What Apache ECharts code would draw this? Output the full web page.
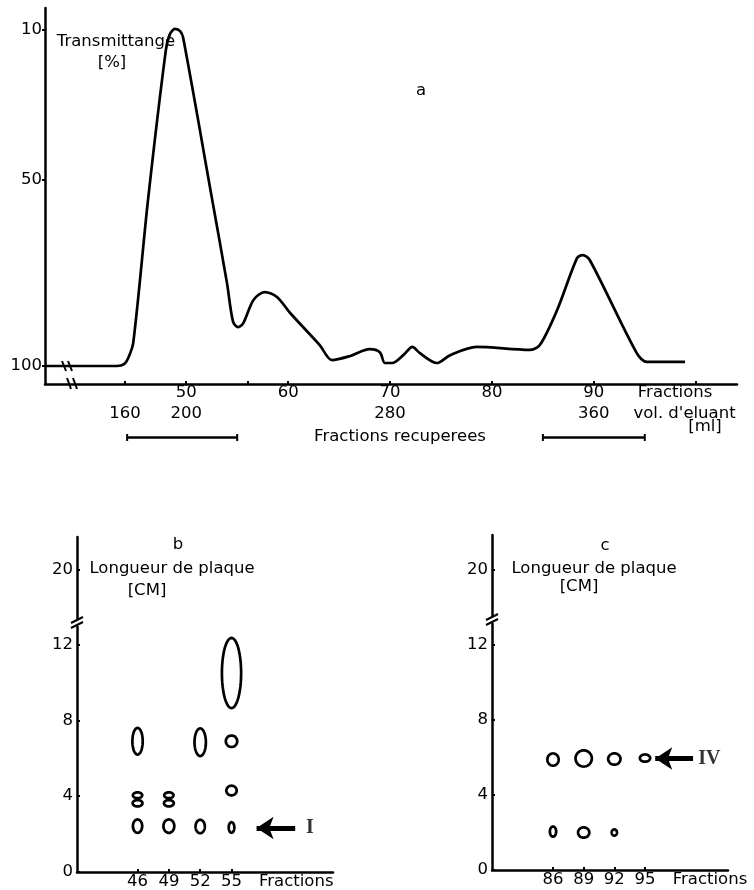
<!DOCTYPE html>
<html><head><meta charset="utf-8">
<script src="https://cdn.jsdelivr.net/npm/echarts@6/dist/echarts.min.js"></script>
<style>html,body{margin:0;padding:0;background:#fff}#c{width:754px;height:890px}</style>
</head><body><div id="c"></div>
<script>
// ---------- chart a : transmittance vs fraction ----------
const curveFractions = [36.2,37.8,43.2,43.9,44.3,44.8,46.25,48.0,48.4,48.9,49.4,49.7,52.5,54.0,54.6,55.1,55.6,56.6,57.7,58.9,60.2,63.1,64.3,66.1,68.0,69.0,69.5,70.2,71.3,72.2,72.9,74.6,75.9,78.5,83.7,84.7,86.4,88.35,88.9,89.6,94.2,95.2,98.95];
const curveTransmittance = [100,100,100,99.5,97.9,93.8,55.5,15.4,11.1,9.7,10.3,12.1,54.7,77.8,88.2,89.6,88.5,82.3,80.2,81.5,85.8,94.4,98.4,97.3,95.5,96.3,99.2,99.2,97.1,94.9,96.5,99.2,97.1,94.9,95.7,94.4,85.0,71.1,70.3,71.6,96.5,98.9,98.9];
const topTickFractions = [44,50,56,60,70,80,90,100];
const topLabelFractions = [50,60,70,80,90];
const volumeAtFraction = [44,50,70,90];
const volumeLabels = ['160','200','280','360'];
const transmTicks = [10,50,100];
const recoveredLeft = [44.2,55.0];
const recoveredRight = [85.0,95.0];

// ---------- chart b : TLC spots, fractions 46-55 ----------
const fractionsB   = [46,46,46,46,49,49,49,52,52,55,55,55,55];
const spotCenterB  = [6.9,4.05,3.63,2.42,4.05,3.63,2.42,6.85,2.4,10.5,6.9,4.3,2.35];
const spotLengthB  = [1.55,0.45,0.48,0.85,0.45,0.48,0.85,1.6,0.85,3.85,0.75,0.65,0.7];
const spotWidthB   = [1.25,1.15,1.2,1.15,1.15,1.2,1.3,1.35,1.15,2.1,1.35,1.25,0.8];
const ticksB = [46,49,52,55];
const arrowB = [[61.1,2.32],[57.4,2.32]];
const arrowLabelB = [62.5,2.32];

// ---------- chart c : TLC spots, fractions 86-95 ----------
const fractionsC   = [86,86,89,89,92,92,95];
const spotCenterC  = [5.89,2.05,5.95,2.0,5.92,2.0,5.97];
const spotLengthC  = [0.8,0.69,1.01,0.69,0.75,0.48,0.53];
const spotWidthC   = [1.37,0.88,1.86,1.37,1.47,0.78,1.27];
const ticksC = [86,89,92,95];
const arrowC = [[99.7,5.95],[96.0,5.95]];
const arrowLabelC = [101.3,5.95];

// plate length ticks (upper "20" sits above an axis break)
const plateTicks = [0,4,8,12];

const FONT = 'DejaVu Sans';
const FS = 16.5;
const BLK = '#000';
const txt = {color: BLK, fontFamily: FONT, fontSize: FS};

function spotRender(params, api) {
  const c = api.coord([api.value(0), api.value(1)]);
  const s = api.size([api.value(2), api.value(3)]);
  const lw = 2.7;
  const rx = Math.max(s[0] / 2 - lw / 2, 1.2), ry = Math.max(s[1] / 2 - lw / 2, 1.2);
  const pts = [];
  for (let i = 0; i < 48; i++) {
    const t = i / 48 * Math.PI * 2;
    pts.push([c[0] + rx * Math.cos(t), c[1] + ry * Math.sin(t)]);
  }
  return {type: 'polygon', shape: {points: pts}, style: {fill: 'none', stroke: BLK, lineWidth: lw}};
}

const chart = echarts.init(document.getElementById('c'), null, {renderer: 'canvas'});

const axisLine = {show: true, onZero: false, lineStyle: {color: BLK, width: 2.5}};

function plateY(gridIndex, max, twentyAt) {
  return {
    gridIndex, type: 'value', min: 0, max,
    axisLine,
    splitLine: {show: false},
    axisTick: {show: true, inside: true, length: 3, customValues: plateTicks.concat([twentyAt]), lineStyle: {color: BLK, width: 2}},
    axisLabel: Object.assign({margin: 4, customValues: plateTicks.concat([twentyAt]),
      formatter: v => v > 14 ? '20' : String(v)}, txt)
  };
}

function plateX(gridIndex, min, max, ticks, fracLabelAt) {
  return {
    gridIndex, type: 'value', min, max,
    axisLine,
    splitLine: {show: false},
    axisTick: {show: true, inside: true, length: 3, customValues: ticks, lineStyle: {color: BLK, width: 2}},
    axisLabel: Object.assign({margin: 1, customValues: ticks.concat([fracLabelAt]),
      formatter: v => v === fracLabelAt ? 'Fractions' : String(v)}, txt)
  };
}

const option = {
  animation: false,
  backgroundColor: '#fff',
  grid: [
    {left: 45, top: 8, width: 692, height: 376},
    {left: 45, top: 430, width: 692, height: 15},
    {left: 77, top: 537, width: 256, height: 336},
    {left: 492, top: 535, width: 236, height: 335}
  ],
  xAxis: [
    {
      gridIndex: 0, type: 'value', min: 36.14, max: 104.05,
      axisLine, splitLine: {show: false},
      axisTick: {show: true, inside: true, length: 3, customValues: topTickFractions, lineStyle: {color: BLK, width: 2}},
      axisLabel: Object.assign({margin: 0, customValues: topLabelFractions.concat([97.97]),
        formatter: v => v > 95 ? 'Fractions' : String(v)}, txt)
    },
    {
      gridIndex: 0, type: 'value', min: 36.14, max: 104.05, position: 'bottom', offset: 21,
      axisLine: {show: false}, axisTick: {show: false}, splitLine: {show: false},
      axisLabel: Object.assign({margin: 0, customValues: volumeAtFraction.concat([98.9]),
        formatter: v => {
          const i = volumeAtFraction.indexOf(v);
          return i >= 0 ? volumeLabels[i] : "vol. d'eluant";
        }}, txt)
    },
    {gridIndex: 1, type: 'value', min: 36.14, max: 104.05, show: false},
    plateX(2, 40.2, 64.72, ticksB, 61.2),
    plateX(3, 80.03, 103.12, ticksC, 101.36)
  ],
  yAxis: [
    {
      gridIndex: 0, type: 'value', inverse: true, min: 4.1, max: 104.82,
      axisLine, splitLine: {show: false},
      axisTick: {show: true, length: 3, customValues: transmTicks, lineStyle: {color: BLK, width: 2}},
      axisLabel: Object.assign({margin: 3, customValues: transmTicks}, txt)
    },
    {gridIndex: 1, type: 'value', min: -1, max: 1, show: false},
    plateY(2, 17.68, 15.95),
    plateY(3, 17.87, 16.0)
  ],
  series: [
    {
      type: 'line', xAxisIndex: 0, yAxisIndex: 0, smooth: 0.3, showSymbol: false,
      lineStyle: {color: BLK, width: 2.7},
      data: curveFractions.map((f, i) => [f, curveTransmittance[i]])
    },
    {
      type: 'line', xAxisIndex: 2, yAxisIndex: 1, symbol: 'rect', symbolSize: [2, 7],
      itemStyle: {color: BLK}, lineStyle: {color: BLK, width: 2.5},
      data: recoveredLeft.map(f => [f, 0])
    },
    {
      type: 'line', xAxisIndex: 2, yAxisIndex: 1, symbol: 'rect', symbolSize: [2, 7],
      itemStyle: {color: BLK}, lineStyle: {color: BLK, width: 2.5},
      data: recoveredRight.map(f => [f, 0])
    },
    {
      type: 'custom', xAxisIndex: 3, yAxisIndex: 2, renderItem: spotRender,
      encode: {x: 0, y: 1},
      data: fractionsB.map((f, i) => [f, spotCenterB[i], spotWidthB[i], spotLengthB[i]])
    },
    {
      type: 'custom', xAxisIndex: 4, yAxisIndex: 3, renderItem: spotRender,
      encode: {x: 0, y: 1},
      data: fractionsC.map((f, i) => [f, spotCenterC[i], spotWidthC[i], spotLengthC[i]])
    },
    {
      type: 'lines', coordinateSystem: 'cartesian2d', xAxisIndex: 3, yAxisIndex: 2,
      symbol: ['none', 'arrow'], symbolSize: [0, 17],
      lineStyle: {color: BLK, width: 5, opacity: 1, curveness: 0},
      data: [{coords: arrowB}]
    },
    {
      type: 'lines', coordinateSystem: 'cartesian2d', xAxisIndex: 4, yAxisIndex: 3,
      symbol: ['none', 'arrow'], symbolSize: [0, 17],
      lineStyle: {color: BLK, width: 5, opacity: 1, curveness: 0},
      data: [{coords: arrowC}]
    },
    {
      type: 'scatter', xAxisIndex: 3, yAxisIndex: 2, symbolSize: 1,
      itemStyle: {color: 'rgba(0,0,0,0)'},
      label: {show: true, position: 'inside', formatter: 'I', color: BLK, fontFamily: 'Liberation Serif', fontSize: 20, fontWeight: 'bold'},
      data: [arrowLabelB]
    },
    {
      type: 'scatter', xAxisIndex: 4, yAxisIndex: 3, symbolSize: 1,
      itemStyle: {color: 'rgba(0,0,0,0)'},
      label: {show: true, position: 'inside', formatter: 'IV', color: BLK, fontFamily: 'Liberation Serif', fontSize: 20, fontWeight: 'bold'},
      data: [arrowLabelC]
    }
  ],
  graphic: []
};

function T(text, x, y, size) {
  return {type: 'text', x, y, z: 50, style: {text, textAlign: 'center', textVerticalAlign: 'middle',
    fontSize: size || FS, fontFamily: FONT, fill: BLK}};
}
function L(x1, y1, x2, y2, w) {
  return {type: 'line', z: 60, shape: {x1, y1, x2, y2}, style: {stroke: BLK, lineWidth: w || 2}};
}
function W(x, y, w, h) {
  return {type: 'rect', z: 55, shape: {x, y, width: w, height: h}, style: {fill: '#fff'}};
}

option.graphic = [
  T('Transmittange', 116, 42), T('[%]', 112, 63), T('a', 421, 91),
  T('Fractions recuperees', 400, 437), T('[ml]', 705, 427),
  T('b', 178, 545), T('Longueur de plaque', 172, 569), T('[CM]', 147, 591),
  T('c', 605, 546), T('Longueur de plaque', 594, 569), T('[CM]', 579, 587),
  // axis breaks chart a
  L(62, 361, 66, 371), L(68, 361, 72, 371),
  L(67, 378, 71, 389), L(73, 378, 77, 389),
  // axis breaks charts b and c
  W(72, 619, 10, 7), L(71, 623, 83, 617), L(71, 628, 83, 622),
  W(487, 616, 10, 7), L(486, 620, 498, 614), L(486, 625, 498, 619)
];

chart.setOption(option);
</script></body></html>
